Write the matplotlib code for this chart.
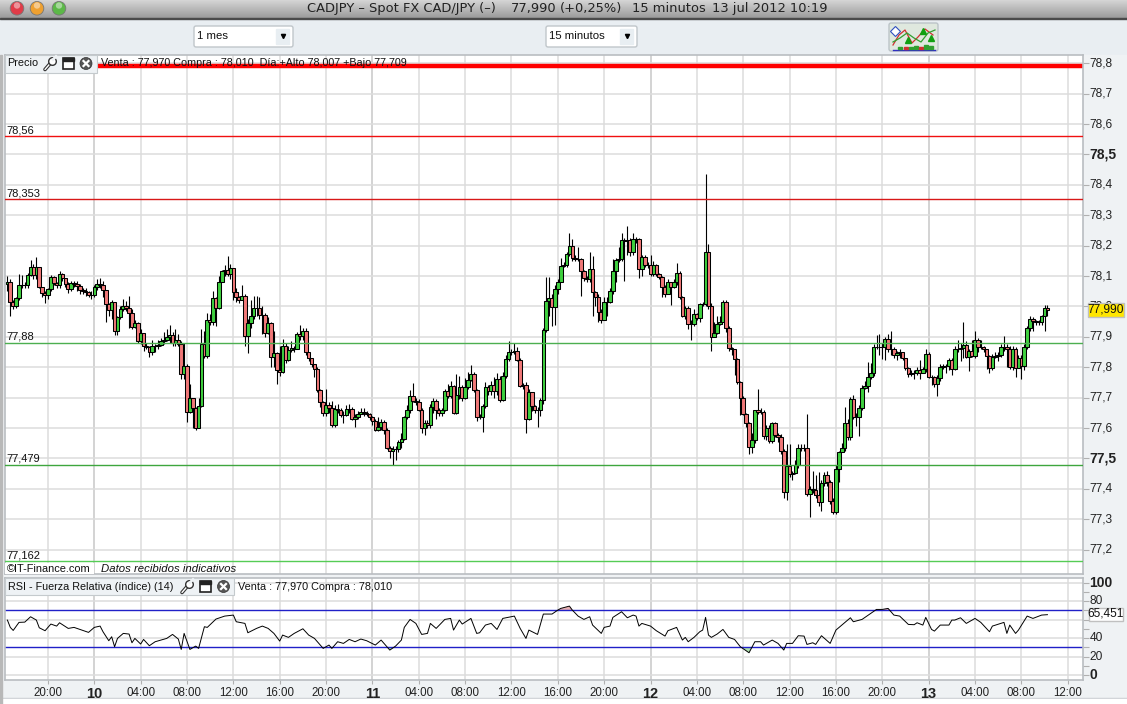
import numpy as np
import matplotlib
matplotlib.use('Agg')
import matplotlib.pyplot as plt
from matplotlib.patches import Rectangle, Circle, FancyBboxPatch
from matplotlib.transforms import ScaledTranslation

W, H = 1127, 704

# 15 minute bars, first one is 9 jul 16:30, last one 13 jul 10:15
closes = [
    78.080, 78.013, 78.000, 78.027, 78.069, 78.069, 78.069, 78.104, 78.131, 78.102,
    78.129, 78.063, 78.044, 78.038, 78.057, 78.096, 78.077, 78.069, 78.107, 78.093,
    78.074, 78.057, 78.077, 78.073, 78.068, 78.055, 78.051, 78.049, 78.038, 78.038,
    78.063, 78.074, 78.071, 78.055, 78.007, 77.989, 78.014, 77.918, 77.965, 77.992,
    78.000, 77.994, 77.980, 77.932, 77.947, 77.885, 77.914, 77.870, 77.868, 77.849,
    77.870, 77.870, 77.874, 77.887, 77.890, 77.901, 77.906, 77.881, 77.890, 77.877,
    77.777, 77.803, 77.652, 77.698, 77.665, 77.600, 77.674, 77.877, 77.838, 77.956,
    77.950, 78.027, 77.996, 78.082, 78.118, 78.120, 78.106, 78.128, 78.046, 78.030,
    78.022, 78.035, 77.904, 77.945, 77.970, 77.996, 77.994, 77.972, 77.972, 77.914,
    77.945, 77.835, 77.846, 77.792, 77.786, 77.869, 77.825, 77.858, 77.863, 77.860,
    77.910, 77.904, 77.918, 77.849, 77.830, 77.810, 77.795, 77.724, 77.685, 77.649,
    77.677, 77.666, 77.611, 77.662, 77.660, 77.642, 77.644, 77.664, 77.662, 77.630,
    77.636, 77.646, 77.653, 77.651, 77.647, 77.636, 77.622, 77.595, 77.603, 77.620,
    77.595, 77.534, 77.523, 77.531, 77.531, 77.554, 77.565, 77.638, 77.658, 77.706,
    77.690, 77.685, 77.660, 77.600, 77.616, 77.611, 77.669, 77.688, 77.660, 77.651,
    77.660, 77.722, 77.707, 77.739, 77.651, 77.708, 77.735, 77.699, 77.735, 77.759,
    77.778, 77.724, 77.638, 77.638, 77.671, 77.735, 77.721, 77.742, 77.721, 77.761,
    77.691, 77.770, 77.827, 77.849, 77.849, 77.855, 77.825, 77.739, 77.742, 77.630,
    77.717, 77.671, 77.660, 77.660, 77.692, 77.921, 78.019, 78.029, 77.997, 78.057,
    78.082, 78.134, 78.137, 78.171, 78.198, 78.159, 78.156, 78.156, 78.117, 78.095,
    78.090, 78.122, 78.047, 78.032, 77.983, 77.954, 78.016, 78.016, 78.051, 78.118,
    78.153, 78.156, 78.217, 78.214, 78.219, 78.180, 78.221, 78.221, 78.122, 78.162,
    78.137, 78.137, 78.106, 78.135, 78.106, 78.096, 78.063, 78.040, 78.079, 78.063,
    78.082, 78.109, 78.030, 77.970, 77.994, 77.942, 77.942, 77.976, 77.961, 78.007,
    78.007, 78.180, 78.002, 77.901, 77.914, 77.942, 77.950, 78.013, 77.928, 77.863,
    77.859, 77.826, 77.753, 77.700, 77.646, 77.616, 77.539, 77.561, 77.658, 77.653,
    77.654, 77.574, 77.600, 77.558, 77.616, 77.578, 77.570, 77.523, 77.391, 77.476,
    77.448, 77.451, 77.479, 77.533, 77.533, 77.533, 77.383, 77.400, 77.396, 77.380,
    77.356, 77.418, 77.446, 77.422, 77.361, 77.323, 77.465, 77.520, 77.533, 77.616,
    77.570, 77.696, 77.637, 77.637, 77.665, 77.731, 77.738, 77.767, 77.782, 77.868,
    77.868, 77.867, 77.865, 77.892, 77.859, 77.859, 77.840, 77.846, 77.849, 77.829,
    77.796, 77.778, 77.780, 77.781, 77.791, 77.780, 77.793, 77.844, 77.769, 77.767,
    77.744, 77.764, 77.802, 77.804, 77.804, 77.824, 77.794, 77.859, 77.860, 77.863,
    77.873, 77.835, 77.853, 77.838, 77.890, 77.865, 77.865, 77.859, 77.838, 77.799,
    77.835, 77.837, 77.839, 77.868, 77.865, 77.859, 77.802, 77.859, 77.796, 77.832,
    77.804, 77.865, 77.928, 77.958, 77.952, 77.950, 77.950, 77.970, 77.994, 77.988,
]
highs = [
    78.10, 78.09, 78.02, 78.03, 78.107, 78.105, 78.08, 78.11, 78.153, 78.14,
    78.162, 78.13, 78.06, 78.05, 78.06, 78.105, 78.10, 78.08, 78.115, 78.11,
    78.095, 78.08, 78.085, 78.085, 78.085, 78.075, 78.06, 78.06, 78.05, 78.05,
    78.07, 78.09, 78.095, 78.085, 78.055, 78.01, 78.02, 78.01, 77.97, 78.0,
    78.025, 78.018, 78.035, 77.99, 77.955, 77.95, 77.925, 77.91, 77.88, 77.87,
    77.89, 77.875, 77.89, 77.895, 77.915, 77.925, 77.94, 77.915, 77.925, 77.91,
    77.885, 77.88, 77.81, 77.745, 77.70, 77.67, 77.70, 77.925, 77.92, 77.978,
    77.975, 78.05, 78.03, 78.10, 78.12, 78.135, 78.166, 78.14, 78.095, 78.06,
    78.035, 78.07, 78.04, 77.96, 78.02, 78.035, 78.035, 78.03, 78.0, 77.98,
    77.965, 77.95, 77.92, 77.85, 77.87, 77.893, 77.88, 77.87, 77.885, 77.87,
    77.915, 77.939, 77.93, 77.929, 77.85, 77.83, 77.81, 77.80, 77.73, 77.69,
    77.73, 77.685, 77.69, 77.675, 77.68, 77.665, 77.655, 77.675, 77.68, 77.67,
    77.645, 77.655, 77.665, 77.665, 77.655, 77.65, 77.64, 77.63, 77.635, 77.63,
    77.625, 77.60, 77.54, 77.54, 77.54, 77.56, 77.585, 77.64, 77.675, 77.725,
    77.748, 77.70, 77.695, 77.665, 77.625, 77.625, 77.68, 77.70, 77.695, 77.665,
    77.665, 77.73, 77.746, 77.755, 77.74, 77.778, 77.77, 77.74, 77.765, 77.785,
    77.807, 77.785, 77.73, 77.645, 77.68, 77.75, 77.74, 77.755, 77.768, 77.78,
    77.77, 77.785, 77.84, 77.885, 77.86, 77.88, 77.865, 77.83, 77.748, 77.75,
    77.73, 77.72, 77.675, 77.67, 77.70, 77.93, 78.098, 78.098, 78.04, 78.07,
    78.09, 78.16, 78.145, 78.18, 78.241, 78.221, 78.17, 78.195, 78.16, 78.12,
    78.10, 78.178, 78.166, 78.05, 78.04, 77.99, 78.03, 78.03, 78.06, 78.155,
    78.16, 78.195, 78.241, 78.225, 78.265, 78.225, 78.24, 78.23, 78.225, 78.17,
    78.17, 78.145, 78.17, 78.15, 78.14, 78.11, 78.10, 78.07, 78.09, 78.08,
    78.09, 78.142, 78.115, 78.035, 78.0, 78.0, 77.955, 77.99, 77.98, 78.01,
    78.015, 78.436, 78.206, 78.01, 77.95, 77.97, 77.97, 78.02, 78.02, 77.935,
    77.865, 77.86, 77.83, 77.755, 77.705, 77.65, 77.62, 77.585, 77.66, 77.728,
    77.665, 77.66, 77.61, 77.61, 77.62, 77.62, 77.585, 77.58, 77.53, 77.548,
    77.548, 77.46, 77.495, 77.548, 77.548, 77.548, 77.646, 77.41, 77.46, 77.445,
    77.455, 77.43, 77.455, 77.458, 77.43, 77.37, 77.48, 77.525, 77.55, 77.668,
    77.63, 77.701, 77.709, 77.65, 77.675, 77.74, 77.756, 77.818, 77.815, 77.875,
    77.906, 77.911, 77.88, 77.90, 77.91, 77.919, 77.865, 77.855, 77.86, 77.85,
    77.83, 77.80, 77.79, 77.79, 77.80, 77.825, 77.80, 77.86, 77.85, 77.775,
    77.77, 77.775, 77.81, 77.81, 77.81, 77.83, 77.83, 77.87, 77.89, 77.88,
    77.948, 77.885, 77.86, 77.89, 77.919, 77.895, 77.89, 77.87, 77.85, 77.84,
    77.845, 77.85, 77.85, 77.875, 77.904, 77.875, 77.87, 77.87, 77.865, 77.84,
    77.84, 77.875, 77.935, 77.968, 77.965, 77.955, 77.955, 77.972, 78.005, 78.005,
]
lows = [
    78.05, 77.97, 77.99, 77.995, 78.02, 78.06, 78.06, 78.06, 78.10, 78.09,
    78.09, 78.06, 78.03, 78.01, 78.025, 78.05, 78.07, 78.06, 78.06, 78.085,
    78.065, 78.045, 78.05, 78.065, 78.05, 78.04, 78.04, 78.035, 78.03, 78.025,
    78.03, 78.055, 78.06, 78.03, 77.95, 77.97, 77.96, 77.907, 77.907, 77.96,
    77.985, 77.985, 77.93, 77.925, 77.93, 77.88, 77.875, 77.855, 77.86, 77.835,
    77.84, 77.85, 77.86, 77.87, 77.875, 77.885, 77.88, 77.87, 77.87, 77.87,
    77.76, 77.76, 77.62, 77.65, 77.60, 77.595, 77.60, 77.67, 77.83, 77.83,
    77.94, 77.94, 77.935, 77.99, 78.08, 78.10, 78.10, 78.09, 78.02, 78.015,
    78.01, 78.02, 77.87, 77.846, 77.93, 77.96, 77.97, 77.96, 77.91, 77.90,
    77.91, 77.80, 77.80, 77.745, 77.77, 77.78, 77.815, 77.82, 77.85, 77.85,
    77.86, 77.89, 77.89, 77.84, 77.82, 77.80, 77.768, 77.72, 77.67, 77.64,
    77.64, 77.65, 77.605, 77.605, 77.65, 77.635, 77.615, 77.64, 77.65, 77.625,
    77.605, 77.63, 77.645, 77.64, 77.64, 77.625, 77.61, 77.59, 77.59, 77.595,
    77.58, 77.53, 77.50, 77.479, 77.495, 77.52, 77.535, 77.56, 77.63, 77.65,
    77.685, 77.675, 77.655, 77.585, 77.576, 77.60, 77.60, 77.65, 77.63, 77.64,
    77.64, 77.655, 77.70, 77.70, 77.645, 77.645, 77.695, 77.69, 77.695, 77.73,
    77.755, 77.72, 77.624, 77.63, 77.586, 77.665, 77.71, 77.71, 77.70, 77.71,
    77.685, 77.69, 77.765, 77.82, 77.84, 77.845, 77.82, 77.735, 77.73, 77.584,
    77.625, 77.655, 77.65, 77.605, 77.64, 77.68, 77.915, 77.967, 77.937, 77.94,
    78.04, 78.08, 78.13, 78.13, 78.165, 78.15, 78.15, 78.15, 78.033, 78.085,
    78.08, 78.08, 77.967, 78.0, 77.95, 77.945, 77.955, 77.969, 78.01, 78.04,
    78.08, 78.145, 78.15, 78.085, 78.17, 78.165, 78.17, 78.21, 78.093, 78.10,
    78.13, 78.125, 78.10, 78.10, 78.10, 78.09, 78.03, 78.03, 78.04, 78.005,
    78.06, 78.07, 78.025, 77.965, 77.96, 77.925, 77.89, 77.935, 77.955, 77.95,
    78.0, 78.0, 77.99, 77.854, 77.90, 77.91, 77.94, 77.95, 77.915, 77.855,
    77.84, 77.775, 77.745, 77.643, 77.643, 77.605, 77.514, 77.517, 77.55, 77.645,
    77.645, 77.565, 77.56, 77.55, 77.55, 77.57, 77.555, 77.515, 77.37, 77.365,
    77.44, 77.43, 77.45, 77.47, 77.525, 77.525, 77.375, 77.309, 77.385, 77.37,
    77.344, 77.328, 77.41, 77.41, 77.35, 77.318, 77.316, 77.424, 77.52, 77.525,
    77.56, 77.56, 77.63, 77.608, 77.575, 77.66, 77.73, 77.72, 77.76, 77.77,
    77.86, 77.84, 77.826, 77.825, 77.85, 77.84, 77.83, 77.825, 77.83, 77.825,
    77.79, 77.767, 77.77, 77.76, 77.775, 77.76, 77.78, 77.785, 77.765, 77.74,
    77.735, 77.707, 77.755, 77.795, 77.78, 77.79, 77.775, 77.79, 77.85, 77.82,
    77.83, 77.83, 77.788, 77.835, 77.83, 77.85, 77.86, 77.85, 77.795, 77.782,
    77.79, 77.83, 77.82, 77.835, 77.855, 77.80, 77.795, 77.79, 77.767, 77.80,
    77.761, 77.79, 77.86, 77.92, 77.92, 77.94, 77.94, 77.94, 77.92, 77.97,
]
first_open = 78.073

rsi_bars = [
    0, 1, 2, 4, 6, 8, 10, 11, 13, 15, 17, 18, 21, 23, 25, 28, 30, 32, 33, 35, 36, 37, 38, 40, 42, 43, 44,
    46, 47, 49, 51, 53, 55, 57, 59, 60, 61, 63, 65, 66, 68, 69, 71, 72, 75, 78, 79, 82, 83, 86, 88, 90,
    92, 94, 95, 97, 99, 102, 104, 106, 109, 111, 112, 114, 116, 118, 120, 122, 124, 127, 129, 132, 134,
    136, 137, 139, 141, 143, 145, 146, 148, 151, 153, 154, 156, 157, 160, 162, 163, 165, 167, 169, 171,
    175, 177, 179, 180, 183, 185, 188, 190, 191, 194, 195, 197, 199, 201, 202, 205, 206, 208, 209, 212,
    214, 216, 217, 218, 219, 222, 224, 227, 228, 231, 233, 234, 235, 237, 239, 240, 241, 242, 243, 245,
    247, 249, 251, 253, 256, 258, 260, 261, 264, 266, 268, 269, 271, 273, 275, 276, 278, 279, 281, 284,
    286, 289, 291, 292, 295, 298, 300, 302, 304, 306, 308, 311, 313, 314, 316, 317, 319, 320, 322, 325,
    326, 327, 329, 331, 334, 336, 339, 340, 344, 345, 346, 348, 349, 352, 354, 357, 359,
]
rsi_values = [
    59.6, 51.7, 48.4, 57.1, 57.4, 63.2, 59.6, 51.3, 48.1, 55.3, 53.1, 56.7, 50.6, 51.7, 49.5, 46.3, 51.7,
    53.1, 47.0, 37.3, 41.6, 30.8, 39.8, 45.2, 44.5, 35.1, 39.8, 33.7, 38.7, 31.9, 36.2, 38.0, 39.8, 44.1,
    39.1, 27.9, 45.2, 27.9, 31.5, 29.0, 52.4, 51.7, 57.8, 60.7, 63.9, 65.0, 57.8, 56.0, 45.9, 50.6, 53.1,
    50.6, 45.2, 36.9, 43.4, 40.9, 45.2, 50.2, 43.4, 39.8, 29.0, 32.6, 29.0, 36.2, 34.4, 38.7, 36.2, 39.1,
    37.3, 32.6, 38.0, 27.2, 31.5, 38.0, 51.7, 60.3, 56.0, 44.1, 45.2, 56.0, 50.6, 60.3, 61.4, 48.8, 59.6,
    55.3, 61.4, 45.2, 45.9, 54.2, 56.0, 49.5, 61.4, 63.9, 50.6, 39.8, 48.8, 44.1, 66.1, 66.1, 70.4, 72.2,
    74.7, 70.4, 63.9, 60.3, 63.2, 54.2, 45.2, 51.7, 53.1, 62.5, 68.6, 62.1, 65.0, 63.9, 53.1, 56.0, 53.1,
    48.1, 42.3, 48.1, 51.7, 38.0, 40.9, 36.2, 40.9, 47.0, 48.8, 62.5, 43.4, 40.9, 44.5, 49.5, 40.9, 38.7,
    30.8, 24.3, 36.2, 36.2, 32.6, 38.0, 34.4, 27.2, 34.4, 34.4, 42.7, 42.3, 33.3, 35.1, 33.3, 42.7, 34.4,
    48.8, 56.7, 62.1, 57.8, 60.3, 66.8, 71.1, 71.1, 72.2, 65.0, 63.9, 54.9, 54.6, 56.7, 54.2, 62.5, 49.5,
    47.7, 54.2, 54.2, 59.6, 59.6, 62.1, 56.0, 61.4, 57.1, 47.0, 53.1, 57.1, 45.2, 54.2, 45.2, 48.8, 63.9,
    61.4, 65.0, 65.451,
]

price_ticks = [78.8, 78.7, 78.6, 78.5, 78.4, 78.3, 78.2, 78.1, 78.0, 77.9, 77.8, 77.7, 77.6, 77.5, 77.4, 77.3, 77.2]
price_labels = ['78,8', '78,7', '78,6', '78,5', '78,4', '78,3', '78,2', '78,1', '78,0', '77,9', '77,8', '77,7',
                '77,6', '77,5', '77,4', '77,3', '77,2']
rsi_ticks = [100, 80, 60, 40, 20, 0]
rsi_labels = ['100', '80', '', '40', '20', '0']  # 60 sits behind the 65,451 box
rsi_minor = [90, 70, 50, 30, 10]
hour_ticks = [-4, 0, 4, 8, 12, 16, 20, 24, 28, 32, 36, 40, 44, 48, 52, 56, 60, 64, 68, 72, 76, 80, 84]
hour_labels = ['20:00', '10', '04:00', '08:00', '12:00', '16:00', '20:00', '11', '04:00', '08:00', '12:00', '16:00',
               '20:00', '12', '04:00', '08:00', '12:00', '16:00', '20:00', '13', '04:00', '08:00', '12:00']
day_ticks = [0, 24, 48, 72]

levels = [78.56, 78.353, 77.88, 77.479, 77.162]
level_labels = ['78,56', '78,353', '77,88', '77,479', '77,162']
level_colors = ['#f01010', '#d81818', '#4caf50', '#3ea63e', '#55cc55']
top_level = 78.79

GREEN = '#3fd03f'
PINK = '#f07878'
GRID = '#dcdcdc'
DAY = '#a8a8a8'
PANEL = '#eff2f4'
SANS = 'Liberation Sans'

fig = plt.figure(figsize=(W / 100, H / 100), dpi=100, facecolor='white')


def pixel_axes(x0, y0, x1, y1, **kw):
    return fig.add_axes([x0 / W, 1 - y1 / H, (x1 - x0) / W, (y1 - y0) / H], **kw)


def nudge(labels, dy_px):
    off = ScaledTranslation(0, dy_px / 100, fig.dpi_scale_trans)
    for lab in labels:
        lab.set_transform(lab.get_transform() + off)


# window chrome
bg = pixel_axes(0, 0, W, H)
bg.axis('off')
grad = np.linspace(0, 1, 18).reshape(-1, 1)
bg.imshow(grad, extent=(0, W, 18, 0), cmap=matplotlib.colors.LinearSegmentedColormap.from_list('t', ['#d4d4d4', '#9c9c9c']),
          aspect='auto', zorder=1)
bg.set_xlim(0, W)
bg.set_ylim(H, 0)
bg.add_patch(Rectangle((0, 18), W, 1.2, color='#4a4a4a', zorder=2))
bg.add_patch(Rectangle((0, 19), W, 36, color='#e9eef2', zorder=1))
bg.add_patch(Rectangle((0, 55), W, 643, color=PANEL, zorder=1))
bg.add_patch(Rectangle((0, 697.5), W, 1, color='#c8ccd0', zorder=2))
bg.add_patch(Rectangle((0, 698.5), W, 6, color='white', zorder=2))
bg.add_patch(Rectangle((0, 55), 2, 649, color='#b8b8b8', zorder=2))
for cx, col in zip([17, 37, 59], ['#e03c48', '#eea030', '#5cb848']):
    bg.add_patch(Circle((cx, 8.3), 6.8, facecolor=col, edgecolor='#777777', lw=0.6, zorder=3))
    bg.add_patch(Circle((cx, 5.5), 3.2, facecolor='white', alpha=0.45, lw=0, zorder=4))

title_bits = [(307, 'CADJPY – Spot FX CAD/JPY (–)'), (511, '77,990'), (560, '(+0,25%)'), (632, '15 minutos'),
              (712, '13 jul 2012 10:19')]
for tx, s in title_bits:
    bg.text(tx, 8.5, s, fontsize=9.4, family='DejaVu Sans', color='#222222', va='center', ha='left', zorder=5)

for bx0, bx1, s in [(194, 293, '1 mes'), (546, 637, '15 minutos')]:
    bg.add_patch(FancyBboxPatch((bx0 + 2, 28), bx1 - bx0 - 4, 17, boxstyle='round,pad=2', fc='white', ec='#c0c6ca', lw=1, zorder=3))
    bg.text(bx0 + 3, 36, s, fontsize=8.2, family=SANS, color='#111111', va='center', zorder=4)
    bg.add_patch(Rectangle((bx1 - 17, 29), 13, 15, color='#e8eef2', zorder=3.5))
    bg.plot([bx1 - 10.5], [36], marker='v', ms=3, color='black', zorder=4)

# indicator button
bg.add_patch(FancyBboxPatch((891, 25), 45, 24, boxstyle='round,pad=2', fc='#dfe8de', ec='#bcc4c8', lw=1, zorder=3))
bg.plot([893, 899, 905, 912, 918, 925, 933], [45, 35, 30, 43, 37, 29, 35], color='#d03030', lw=0.9, zorder=4)
bg.plot([893, 900, 907, 914, 921, 928, 935], [42, 38, 33, 38, 42, 33, 30], color='#30a030', lw=0.9, zorder=4)
bg.plot([893, 935], [50, 50], color='#3030c0', lw=1, zorder=4)
bg.plot([895], [31], marker='D', ms=5, mfc='white', mec='#3050c0', mew=0.8, zorder=4)
for bar_x, bar_h, bar_c in [(898, 2, '#30a030'), (904, 2, '#d03030'), (909, 2, '#30a030'), (914, 3, '#30a030'),
                            (919, 2, '#d03030'), (924, 4, '#30a030'), (929, 3, '#30a030')]:
    bg.add_patch(Rectangle((bar_x, 49 - bar_h), 4, bar_h, color=bar_c, zorder=4))
bg.plot([908, 923, 931], [40, 31, 38], marker='^', ms=4, lw=0, color='#10a010', zorder=4.5)

# price panel
x_left, x_right = -7.75, 85.32
ax = pixel_axes(4.5, 55, 1083, 574, zorder=2, facecolor='white')
ax.set_xlim(x_left, x_right)
ax.set_ylim(77.12, 78.827)

t = -7.5 + 0.25 * np.arange(len(closes))
c = np.array(closes)
o = np.r_[first_open, c[:-1]]
body_col = [GREEN if a >= b else PINK for a, b in zip(c, o)]

ax.set_xticks(hour_ticks)
ax.set_yticks(price_ticks)
ax.grid(True, color=GRID, lw=1.1, zorder=0)
for d in day_ticks:
    ax.axvline(d, color=DAY, lw=1.1, zorder=0.5)

ax.vlines(t, lows, highs, color='black', lw=0.8, zorder=3)
ax.bar(t, c - o, bottom=o, width=0.31, color=body_col, edgecolor='black', lw=0.75, zorder=3.1)

ax.axhline(top_level, color='#ff0000', lw=3.2, zorder=2.5)
for lv, lab, col in zip(levels, level_labels, level_colors):
    ax.axhline(lv, color=col, lw=1.0, zorder=4)
    ax.annotate(lab, (0, lv), xycoords=('axes fraction', 'data'), xytext=(2, 6), textcoords='offset pixels',
                fontsize=8.0, family=SANS, color='#111111', va='center', zorder=5)

ax.yaxis.tick_right()
ax.set_yticklabels(price_labels, fontsize=8.6, family=SANS, color='#222222')
ax.tick_params(axis='y', length=4, width=0.8, color='#b0b0b0', pad=0.5)
ax.tick_params(axis='x', length=0, labelbottom=False)
for lab, val in zip(ax.get_yticklabels(), price_ticks):
    if val in (78.5, 77.5):
        lab.set_fontweight('bold')
        lab.set_fontsize(10)
nudge(ax.get_yticklabels(), 1.5)
for sp in ax.spines.values():
    sp.set_color('#b9bdc1')
    sp.set_linewidth(1.2)

# rsi panel
rx = pixel_axes(4.5, 577.5, 1083, 679.5, zorder=2, facecolor='white')
rx.set_xlim(x_left, x_right)
rx.set_ylim(-4.6, 105.6)
rsi_t = t[np.array(rsi_bars)]
rsi_v = np.array(rsi_values)
rx.set_xticks(hour_ticks)
rx.set_yticks(rsi_ticks)
rx.set_yticks(rsi_minor, minor=True)
rx.grid(True, which='major', color=GRID, lw=1.1, zorder=0)
for d in day_ticks:
    rx.axvline(d, color=DAY, lw=1.1, zorder=0.5)
rx.fill_between(rsi_t, rsi_v, 70, where=rsi_v > 70, interpolate=True, color='#e8b0b0', lw=0, zorder=1)
rx.fill_between(rsi_t, rsi_v, 30, where=rsi_v < 30, interpolate=True, color='#b0e0b0', lw=0, zorder=1)
rx.axhline(70, color='#2020c8', lw=1.0, zorder=2)
rx.axhline(30, color='#2020c8', lw=1.0, zorder=2)
rx.plot(rsi_t, rsi_v, color='black', lw=0.7, zorder=3)
rx.yaxis.tick_right()
rx.set_yticklabels(rsi_labels, fontsize=8.6, family=SANS, color='#222222')
rx.tick_params(axis='y', which='both', length=4, width=0.8, color='#b0b0b0', pad=0.5)
for lab, val in zip(rx.get_yticklabels(), rsi_ticks):
    if val in (100, 0):
        lab.set_fontweight('bold')
        lab.set_fontsize(10)
nudge(rx.get_yticklabels(), 1.5)
rx.set_xticklabels(hour_labels, fontsize=8.3, family=SANS, color='#222222')
rx.tick_params(axis='x', length=3, width=0.8, color='#b0b0b0', pad=2.5)
for lab, val in zip(rx.get_xticklabels(), hour_ticks):
    if val in day_ticks:
        lab.set_fontweight('bold')
        lab.set_fontsize(10.5)
for sp in rx.spines.values():
    sp.set_color('#b9bdc1')
    sp.set_linewidth(1.2)

# overlay boxes and icons
fg = pixel_axes(0, 0, W, H, zorder=5)
fg.set_xlim(0, W)
fg.set_ylim(H, 0)
fg.axis('off')


def icons(x_w, x_f, x_c, yc):
    fg.plot([x_w - 5, x_w + 1], [yc + 6, yc - 1], color='#333333', lw=2.6, solid_capstyle='round')
    fg.plot([x_w - 5, x_w + 1], [yc + 6, yc - 1], color='white', lw=1.0, solid_capstyle='round')
    fg.plot([x_w + 2], [yc - 3], marker='o', ms=5.5, mfc='white', mec='#333333', mew=1.0)
    fg.plot([x_w + 3, x_w + 6], [yc - 4, yc - 7], color='#eef2f5', lw=2)
    fg.add_patch(Rectangle((x_f - 5.5, yc - 5.5), 11, 11, fc='white', ec='#222222', lw=1.2))
    fg.add_patch(Rectangle((x_f - 5.5, yc - 5.5), 11, 2.5, fc='#222222', ec='#222222', lw=1))
    fg.add_patch(Circle((x_c, yc), 6, fc='#555555', ec='#333333', lw=0.5))
    fg.plot([x_c - 2.5, x_c + 2.5], [yc - 2.5, yc + 2.5], color='white', lw=1.6)
    fg.plot([x_c - 2.5, x_c + 2.5], [yc + 2.5, yc - 2.5], color='white', lw=1.6)


fg.add_patch(Rectangle((4.5, 55), 92.5, 18, fc='#eef2f5', ec='#c4cacd', lw=0.8))
fg.text(7.5, 63.5, 'Precio', fontsize=7.8, family=SANS, color='#111111', va='center')
icons(50, 68, 86, 63.5)
fg.text(101, 63.5, 'Venta : 77,970 Compra : 78,010  Día:+Alto 78,007 +Bajo 77,709', fontsize=7.75, family=SANS, color='#111111', va='center')

fg.add_patch(Rectangle((4.5, 562.8), 89, 11, fc='white', ec='none'))
fg.text(7, 568.5, '©IT-Finance.com', fontsize=7.9, family=SANS, color='#111111', va='center')
fg.text(101, 568.5, 'Datos recibidos indicativos', fontsize=8.2, family=SANS, style='italic', color='#111111', va='center')

fg.add_patch(Rectangle((4.5, 578), 229, 17, fc='#eef2f5', ec='#c4cacd', lw=0.8))
fg.text(7.5, 586.5, 'RSI - Fuerza Relativa (índice) (14)', fontsize=7.75, family=SANS, color='#111111', va='center')
icons(187, 205.5, 223.5, 586.5)
fg.text(237.5, 586.5, 'Venta : 77,970 Compra : 78,010', fontsize=7.8, family=SANS, color='#111111', va='center')

fg.add_patch(Rectangle((1088, 303), 36, 14, fc='#ffe600', ec='#c0c0c0', lw=1))
fg.text(1106, 310, '77,990', fontsize=8.6, family=SANS, color='#111111', ha='center', va='center')
fg.add_patch(Rectangle((1088.5, 607.5), 34, 13, fc='white', ec='#c0c0c0', lw=1))
fg.text(1105.5, 614, '65,451', fontsize=8.6, family=SANS, color='#111111', ha='center', va='center')

fig.savefig('out.png', dpi=100)
